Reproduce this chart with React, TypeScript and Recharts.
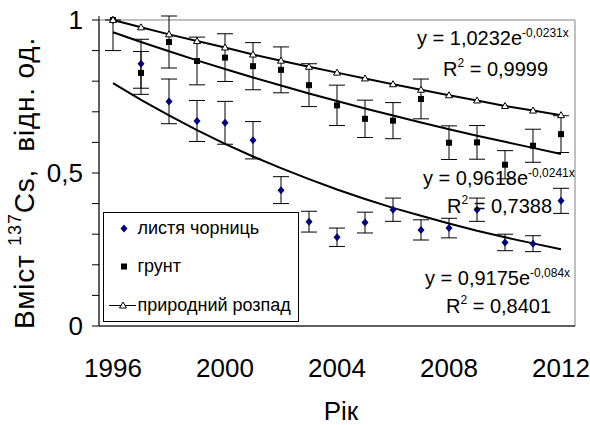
import React from 'react'
import {
  ComposedChart,
  Line,
  Scatter,
  ErrorBar,
  XAxis,
  YAxis,
  Legend,
  ReferenceArea,
} from 'recharts'

const years = [1996, 1997, 1998, 1999, 2000, 2001, 2002, 2003, 2004, 2005, 2006, 2007, 2008, 2009, 2010, 2011, 2012]

// листя чорниць
const blueberry = [1.0, 0.857, 0.734, 0.67, 0.664, 0.607, 0.444, 0.341, 0.29, 0.338, 0.38, 0.314, 0.32, 0.38, 0.273, 0.269, 0.409]
const blueberryErr = [0, 0.08, 0.073, 0.067, 0.07, 0.061, 0.044, 0.034, 0.03, 0.034, 0.038, 0.033, 0.032, 0.038, 0.027, 0.026, 0.041]
const blueberryTrend = [0.794, 0.739, 0.688, 0.64, 0.595, 0.554, 0.516, 0.48, 0.446, 0.415, 0.386, 0.36, 0.335, 0.311, 0.29, 0.27, 0.251]

// грунт
const soil = [1.0, 0.827, 0.928, 0.866, 0.877, 0.849, 0.837, 0.787, 0.721, 0.677, 0.671, 0.742, 0.599, 0.6, 0.527, 0.589, 0.627]
const soilErr: (number | number[])[] = [[0.1, 0], 0.07, 0.085, 0.078, 0.078, 0.077, 0.075, 0.07, 0.066, 0.061, 0.059, 0.065, 0.055, 0.055, 0.046, 0.054, 0.06]
const soilTrend = [0.96, 0.928, 0.898, 0.868, 0.84, 0.812, 0.786, 0.76, 0.735, 0.711, 0.688, 0.665, 0.643, 0.622, 0.602, 0.582, 0.562]

// природний розпад
const decay = [1.0, 0.976, 0.953, 0.931, 0.91, 0.887, 0.867, 0.847, 0.828, 0.809, 0.79, 0.772, 0.754, 0.737, 0.719, 0.704, 0.689]

const yearLabels = [1996, 2000, 2004, 2008, 2012]
const yTicks = [0, 0.1, 0.2, 0.3, 0.4, 0.5, 0.6, 0.7, 0.8, 0.9, 1]
const yLabels: Record<number, string> = { 0: '0', 0.5: '0,5', 1: '1' }

const data = years.map((year, i) => ({
  year,
  blueberry: blueberry[i],
  blueberryErr: blueberryErr[i],
  blueberryTrend: blueberryTrend[i],
  soil: soil[i],
  soilErr: soilErr[i],
  soilTrend: soilTrend[i],
  decay: decay[i],
}))

// tick marks sit between the years, like an Excel category axis
const boundaries = [...years.map((y) => y - 0.5), years[years.length - 1] + 0.5]
const xDomain = [boundaries[0], boundaries[boundaries.length - 1]]

const FONT = '"Liberation Sans", Arial, sans-serif'
const NAVY = '#000080'

const Diamond = (props: any) => {
  const { cx, cy } = props
  if (cx == null || cy == null) return null
  return <polygon points={`${cx},${cy - 4} ${cx + 3.5},${cy} ${cx},${cy + 4} ${cx - 3.5},${cy}`} fill={NAVY} />
}

const Square = (props: any) => {
  const { cx, cy } = props
  if (cx == null || cy == null) return null
  return <rect x={cx - 3} y={cy - 3} width={6} height={6} fill="#000" />
}

const Triangle = (props: any) => {
  const { cx, cy } = props
  if (cx == null || cy == null) return null
  return (
    <polygon
      key={`t-${cx}`}
      points={`${cx},${cy - 3.5} ${cx + 3.5},${cy + 2.5} ${cx - 3.5},${cy + 2.5}`}
      fill="#fff"
      stroke="#000"
      strokeWidth={1}
    />
  )
}

const LegendBox = () => (
  <svg width={196} height={110} style={{ display: 'block' }}>
    <rect x={0.5} y={0.5} width={195} height={109} fill="#fff" stroke="#000" />
    <Diamond cx={21} cy={16.5} />
    <Square cx={21} cy={54.5} />
    <line x1={6} x2={33} y1={93.5} y2={93.5} stroke="#000" />
    <Triangle cx={20} cy={93.5} />
    <g fontFamily={FONT} fontSize={18} fill="#000">
      <text x={34.5} y={21.5}>листя чорниць</text>
      <text x={34.5} y={59.5}>грунт</text>
      <text x={34.5} y={98.5}>природний розпад</text>
    </g>
  </svg>
)

const YTitle = (props: any) => {
  const vb = props.viewBox || { x: 0, y: 16, width: 99, height: 310 }
  const bx = vb.x + 34
  const cy = vb.y + vb.height / 2 + 12
  return (
    <text
      transform={`translate(${bx},${cy}) rotate(-90)`}
      textAnchor="middle"
      fontFamily={FONT}
      fontSize={28}
      letterSpacing={0.8}
      fill="#000"
      style={{ whiteSpace: 'pre' }}
    >
      <tspan>{'Вміст '}</tspan>
      <tspan fontSize={18} dy={-13}>137</tspan>
      <tspan dy={13}>{'Cs,  відн. од.'}</tspan>
    </text>
  )
}

const Equation = ({ x, y, coef, exp }: { x: number; y: number; coef: string; exp: string }) => (
  <text x={x} y={y} fontFamily={FONT} fontSize={20} fill="#000">
    <tspan>y = {coef}e</tspan>
    <tspan fontSize={12} dy={-8}>{exp}</tspan>
  </text>
)

const RSquared = ({ x, y, value }: { x: number; y: number; value: string }) => (
  <text x={x} y={y} fontFamily={FONT} fontSize={20} fill="#000">
    <tspan>R</tspan>
    <tspan fontSize={12} dy={-9}>2</tspan>
    <tspan dy={9}> = {value}</tspan>
  </text>
)

export default function App() {
  return (
    <div style={{ position: 'absolute', left: 0, top: 0, width: 590, height: 425, background: '#fff' }}>
      <ComposedChart
        width={590}
        height={425}
        data={data}
        margin={{ top: 16, right: 15, bottom: 0, left: 0 }}
        style={{ fontFamily: FONT }}
      >
        <ReferenceArea
          xAxisId="grid"
          x1={xDomain[0]}
          x2={xDomain[1]}
          y1={0}
          y2={1}
          fill="none"
          stroke="#808080"
          strokeWidth={1}
          fillOpacity={0}
        />
        <XAxis
          xAxisId="grid"
          dataKey="year"
          type="number"
          domain={xDomain}
          ticks={boundaries}
          interval={0}
          tick={false}
          tickSize={7}
          height={7}
          stroke="#000"
          axisLine={{ stroke: '#000' }}
          tickLine={{ stroke: '#000' }}
        />
        <XAxis
          xAxisId="labels"
          dataKey="year"
          type="number"
          domain={xDomain}
          ticks={yearLabels}
          interval={0}
          axisLine={false}
          tickLine={false}
          tickSize={0}
          tickMargin={26}
          height={92}
          tick={{ fill: '#000', fontSize: 26, fontFamily: FONT }}
          label={{ value: 'Рік', position: 'insideBottom', offset: 5, fill: '#000', fontSize: 26, fontFamily: FONT, dx: 4 }}
        />
        <YAxis
          type="number"
          domain={[0, 1]}
          ticks={yTicks}
          interval={0}
          width={99}
          tickSize={7}
          tickMargin={9}
          stroke="#000"
          tickFormatter={(v: number) => yLabels[Math.round(v * 10) / 10] ?? ''}
          tick={{ fill: '#000', fontSize: 26, fontFamily: FONT }}
          label={{ content: YTitle }}
        />
        <Line
          xAxisId="grid"
          dataKey="blueberryTrend"
          stroke="#000"
          strokeWidth={2}
          dot={false}
          isAnimationActive={false}
        />
        <Line
          xAxisId="grid"
          dataKey="soilTrend"
          stroke="#000"
          strokeWidth={2}
          dot={false}
          isAnimationActive={false}
        />
        <Scatter xAxisId="grid" dataKey="blueberry" shape={<Diamond />} isAnimationActive={false}>
          <ErrorBar dataKey="blueberryErr" direction="y" width={8} stroke="#000" strokeWidth={1} />
        </Scatter>
        <Scatter xAxisId="grid" dataKey="soil" shape={<Square />} isAnimationActive={false}>
          <ErrorBar dataKey="soilErr" direction="y" width={8} stroke="#000" strokeWidth={1} />
        </Scatter>
        <Line
          xAxisId="grid"
          dataKey="decay"
          stroke="#000"
          strokeWidth={2}
          dot={<Triangle />}
          isAnimationActive={false}
        />
        <Legend
          layout="horizontal"
          align="center"
          verticalAlign="middle"
          content={() => <LegendBox />}
          wrapperStyle={{ left: 103, top: 212, width: 196, height: 110 }}
        />
      </ComposedChart>
      <svg
        width={590}
        height={425}
        style={{ position: 'absolute', left: 0, top: 0, pointerEvents: 'none' }}
      >
        <Equation x={417} y={45} coef="1,0232" exp="-0,0231x" />
        <RSquared x={443} y={76} value="0,9999" />
        <Equation x={423} y={185} coef="0,9618" exp="-0,0241x" />
        <RSquared x={447} y={213} value="0,7388" />
        <Equation x={425} y={285} coef="0,9175" exp="-0,084x" />
        <RSquared x={446} y={313} value="0,8401" />
      </svg>
    </div>
  )
}
